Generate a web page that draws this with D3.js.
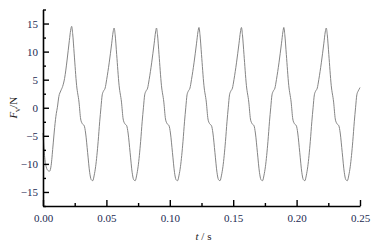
<!DOCTYPE html>
<html>
<head>
<meta charset="utf-8">
<script src="https://cdn.jsdelivr.net/npm/d3@7"></script>
<style>
  body { margin: 0; background: #fff; }
  svg { display: block; }
</style>
</head>
<body>
<svg width="388" height="246"></svg>
<script>
// time (s) and force (N)
var time = [
  0.0000, 0.0012, 0.0025, 0.0040, 0.0052, 0.0064, 0.0078, 0.0092, 0.0105, 0.0113,
  0.0125, 0.0140, 0.0155, 0.0170, 0.0190, 0.0208, 0.0218,
  0.0226, 0.0234, 0.0246, 0.0265, 0.0284, 0.0297, 0.0309, 0.0325, 0.0336, 0.0352,
  0.0368, 0.0380, 0.0392, 0.0404, 0.0415, 0.0435, 0.0447, 0.0457, 0.0467, 0.0478,
  0.0490, 0.0502, 0.0522, 0.0542, 0.0553,
  0.0561, 0.0569, 0.0581, 0.0600, 0.0619, 0.0632, 0.0644, 0.0660, 0.0671, 0.0687,
  0.0703, 0.0715, 0.0727, 0.0739, 0.0750, 0.0770, 0.0782, 0.0792, 0.0802, 0.0813,
  0.0825, 0.0837, 0.0857, 0.0877, 0.0888,
  0.0895, 0.0903, 0.0915, 0.0934, 0.0953, 0.0966, 0.0978, 0.0994, 0.1005, 0.1021,
  0.1037, 0.1049, 0.1061, 0.1073, 0.1084, 0.1104, 0.1116, 0.1126, 0.1136, 0.1147,
  0.1159, 0.1171, 0.1191, 0.1211, 0.1222,
  0.1230, 0.1238, 0.1250, 0.1269, 0.1288, 0.1301, 0.1313, 0.1329, 0.1340, 0.1356,
  0.1372, 0.1384, 0.1396, 0.1408, 0.1419, 0.1439, 0.1451, 0.1461, 0.1471, 0.1482,
  0.1494, 0.1506, 0.1526, 0.1546, 0.1557,
  0.1565, 0.1573, 0.1585, 0.1604, 0.1623, 0.1636, 0.1648, 0.1664, 0.1675, 0.1691,
  0.1707, 0.1719, 0.1731, 0.1743, 0.1754, 0.1774, 0.1786, 0.1796, 0.1806, 0.1817,
  0.1829, 0.1841, 0.1861, 0.1881, 0.1892,
  0.1899, 0.1907, 0.1919, 0.1938, 0.1957, 0.1970, 0.1982, 0.1998, 0.2009, 0.2025,
  0.2041, 0.2053, 0.2065, 0.2077, 0.2088, 0.2108, 0.2120, 0.2130, 0.2140, 0.2151,
  0.2163, 0.2175, 0.2195, 0.2215, 0.2226,
  0.2234, 0.2242, 0.2254, 0.2273, 0.2292, 0.2305, 0.2317, 0.2333, 0.2344, 0.2360,
  0.2376, 0.2388, 0.2400, 0.2412, 0.2423, 0.2443, 0.2455, 0.2465, 0.2475, 0.2486,
  0.2498, 0.2500
];
var force = [
  -4.5, -8.5, -10.5, -11.2, -11.3, -10.3, -7.0, -3.5, -1.0, 0.0,
  2.0, 3.0, 3.8, 5.2, 8.5, 12.0, 13.8,
  14.5, 13.2, 9.6, 4.0, 1.0, -2.0, -2.8, -3.2, -4.5, -8.0,
  -11.5, -12.8, -13.0, -12.0, -10.5, -6.0, -2.5, 0.0, 2.3, 3.0,
  3.5, 5.0, 8.0, 11.5, 13.5,
  14.2, 13.0, 9.5, 4.0, 1.0, -2.0, -2.8, -3.2, -4.5, -8.0,
  -11.5, -12.8, -13.0, -12.0, -10.5, -6.0, -2.5, 0.0, 2.3, 3.0,
  3.5, 5.0, 8.0, 11.5, 13.5,
  14.2, 13.0, 9.5, 4.0, 1.0, -2.0, -2.8, -3.2, -4.5, -8.0,
  -11.5, -12.8, -13.0, -12.0, -10.5, -6.0, -2.5, 0.0, 2.3, 3.0,
  3.5, 5.0, 8.0, 11.5, 13.5,
  14.3, 13.0, 9.5, 4.0, 1.0, -2.0, -2.8, -3.2, -4.5, -8.0,
  -11.5, -12.8, -13.0, -12.0, -10.5, -6.0, -2.5, 0.0, 2.3, 3.0,
  3.5, 5.0, 8.0, 11.5, 13.5,
  14.3, 13.0, 9.5, 4.0, 1.0, -2.0, -2.8, -3.2, -4.5, -8.0,
  -11.5, -12.8, -13.0, -12.0, -10.5, -6.0, -2.5, 0.0, 2.3, 3.0,
  3.5, 5.0, 8.0, 11.5, 13.5,
  14.3, 13.0, 9.5, 4.0, 1.0, -2.0, -2.8, -3.2, -4.5, -8.0,
  -11.5, -12.8, -13.0, -12.0, -10.5, -6.0, -2.5, 0.0, 2.3, 3.0,
  3.5, 5.0, 8.0, 11.5, 13.5,
  14.2, 13.0, 9.5, 4.0, 1.0, -2.0, -2.8, -3.2, -4.5, -8.0,
  -11.5, -12.8, -13.0, -12.0, -10.5, -6.0, -2.5, 0.0, 2.3, 3.0,
  3.5, 3.6
];

var xTicks = [0, 0.05, 0.10, 0.15, 0.20, 0.25];
var xMinor = [0.025, 0.075, 0.125, 0.175, 0.225];
var yTicks = [-15, -10, -5, 0, 5, 10, 15];
var yMinor = [-17.5, -12.5, -7.5, -2.5, 2.5, 7.5, 12.5, 17.5];

var serif = '"Liberation Serif", "Times New Roman", serif';

var svg = d3.select("svg"),
  margin = {left: 43, top: 9.5, right: 28, bottom: 40},
  width = +svg.attr("width") - margin.left - margin.right,
  height = +svg.attr("height") - margin.top - margin.bottom;

var g = svg.append("g").attr("transform", "translate(" + margin.left + "," + margin.top + ")");

var x = d3.scaleLinear().domain([0, 0.25]).range([0, width]);
var y = d3.scaleLinear().domain([-17.5, 17.5]).range([height, 0]);

// curve
var line = d3.line()
  .x(function(d, i) { return x(time[i]); })
  .y(function(d) { return y(d); })
  .curve(d3.curveMonotoneX);

g.append("path")
  .datum(force)
  .attr("d", line)
  .attr("fill", "none")
  .attr("stroke", "#858585")
  .attr("stroke-width", 1);

// axes, ticks pointing inwards
function styleAxis(sel) {
  sel.attr("font-family", serif).attr("font-size", 11);
  sel.select(".domain").attr("stroke", "#000").attr("stroke-width", 1.6);
  sel.selectAll(".tick line").attr("stroke", "#000").attr("stroke-width", 1.4);
  sel.selectAll(".tick text").attr("fill", "#1c2a52");
}

var xAxis = g.append("g").attr("transform", "translate(0," + height + ")")
  .call(d3.axisBottom(x).tickValues(xTicks).tickSizeInner(-6).tickSizeOuter(0).tickPadding(8)
    .tickFormat(d3.format(".2f")));
styleAxis(xAxis);

var xAxisMinor = g.append("g").attr("transform", "translate(0," + height + ")")
  .call(d3.axisBottom(x).tickValues(xMinor).tickSize(-3).tickFormat(""));
xAxisMinor.select(".domain").remove();
styleAxis(xAxisMinor);

var yAxis = g.append("g")
  .call(d3.axisLeft(y).tickValues(yTicks).tickSizeInner(-6).tickSizeOuter(0).tickPadding(5)
    .tickFormat(function(d) { return d < 0 ? "\u2212" + Math.abs(d) : d; }));
styleAxis(yAxis);

var yAxisMinor = g.append("g")
  .call(d3.axisLeft(y).tickValues(yMinor).tickSize(-3).tickFormat(""));
yAxisMinor.select(".domain").remove();
styleAxis(yAxisMinor);

// titles
var xt = svg.append("text")
  .attr("font-family", serif).attr("font-size", 11).attr("fill", "#222")
  .attr("x", margin.left + x(0.125) + 2)
  .attr("y", 240)
  .attr("text-anchor", "middle");
xt.append("tspan").attr("font-style", "italic").text("t");
xt.append("tspan").text(" / s");

var yt = svg.append("text")
  .attr("font-family", serif).attr("font-size", 11).attr("fill", "#222")
  .attr("transform", "translate(17," + (margin.top + y(0)) + ") rotate(-90)")
  .attr("text-anchor", "middle");
yt.append("tspan").attr("font-style", "italic").text("F");
yt.append("tspan").attr("font-size", "8px").attr("dy", 3).text("v");
yt.append("tspan").attr("dy", -3).text("/N");
</script>
</body>
</html>
